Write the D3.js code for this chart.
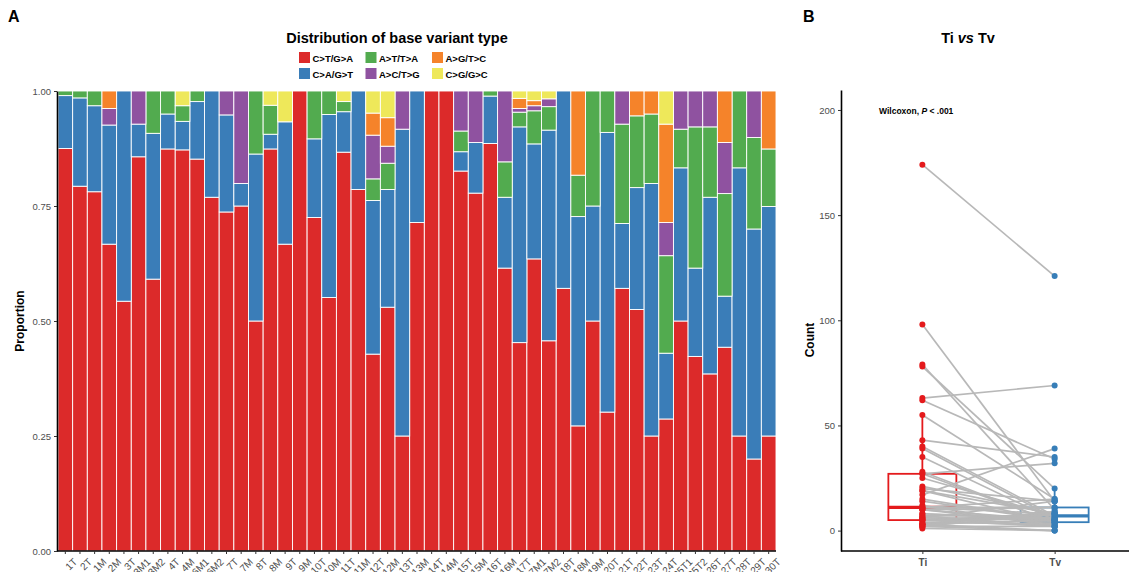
<!DOCTYPE html>
<html>
<head>
<meta charset="utf-8">
<script src="https://cdn.jsdelivr.net/npm/d3@7"></script>
<style>
body { margin: 0; background: #fff; }
svg { font-family: "Liberation Sans", Arial, sans-serif; }
</style>
</head>
<body>
<svg id="fig" width="1129" height="572"></svg>
<script>
// panel A: proportion of each base change per sample
var samples = ["1T","2T","1M","2M","3T","3M1","3M2","4T","4M","6M1","6M2","7T","7M","8T","8M","9T","9M","10T","10M","11T","11M","12T","12M","13T","13M","14T","14M","15T","15M","16T","16M","17T","17M1","17M2","18T","18M","19M","20T","21T","22T","23T","24T","25T1","25T2","26T","27T","28T","29T","30T"];
var ctga = [.875,.793,.781,.667,.543,.857,.591,.874,.872,.852,.769,.737,.75,.5,.874,.667,1,.725,.551,.867,.786,.428,.53,.25,.714,1,1,.826,.778,.886,.615,.453,.635,.457,.571,.272,.5,.302,.571,.525,.25,.287,.5,.423,.385,.443,.25,.2,.25];
var cagt = [.115,.192,.187,.259,.457,.071,.317,.076,.062,.125,.231,.211,.049,.363,.032,.266,0,.171,.398,.088,.214,.334,.256,.667,.286,0,0,.042,.110,.103,.154,.469,.25,.458,.429,.455,.25,.608,.141,.265,.549,.143,.333,.192,.384,.111,.583,.5,.499];
var atta = [.010,.015,.032,0,0,0,.092,.050,.034,.023,0,0,0,.137,.063,0,0,.104,.051,.022,0,.047,.057,0,0,0,0,.045,0,.011,.077,.032,.072,.051,0,.090,.25,.090,.216,.156,.151,.212,.084,.307,.153,.223,.167,.199,.125];
var actg = [0,0,0,.036,0,.072,0,0,0,0,0,.052,.201,0,0,0,0,0,0,0,0,.095,.037,.083,0,0,0,.087,.112,0,.154,.008,.011,.017,0,0,0,0,.072,0,0,.072,.083,.078,.078,.111,0,.101,0];
var agtc = [0,0,0,.038,0,0,0,0,0,0,0,0,0,0,0,0,0,0,0,0,0,.048,.062,0,0,0,0,0,0,0,0,.022,.011,0,0,.183,0,0,0,.054,.05,.214,0,0,0,.112,0,0,.126];
var cggc = [0,0,0,0,0,0,0,0,.032,0,0,0,0,0,.031,.067,0,0,0,.023,0,.048,.058,0,0,0,0,0,0,0,0,.016,.021,.017,0,0,0,0,0,0,0,.072,0,0,0,0,0,0,0];
var typeNames = ["C>T/G>A","C>A/G>T","A>T/T>A","A>C/T>G","A>G/T>C","C>G/G>C"];
var typeColors = ["#dc2a2a","#3a7db8","#52ab4f","#8f52a0","#f5832a","#eee85a"];
var propTicks = [0, 0.25, 0.5, 0.75, 1];

// panel B: transitions / transversions per sample
var groups = ["Ti", "Tv"];
var tiCount = [98,78,25,19,6,12,174,35,27,40,10,14,15,11,28,10,3,21,43,39,55,10,20,3,5,2,1,19,7,79,8,63,62,27,4,5,2,17,8,11,6,7,6,11,5,5,3,2,3];
var tvCount = [14,20,7,8,5,2,121,5,4,7,3,5,5,11,4,5,0,8,35,6,15,11,14,9,2,0,0,4,2,10,5,69,34,32,3,6,2,39,6,8,14,7,6,15,8,4,9,8,5];
var countTicks = [0, 50, 100, 150, 200];
var groupColors = ["#e41a1c", "#377eb8"];

var svg = d3.select("#fig");

function styleAxis(g) {
	g.select(".domain").attr("stroke", "#000").attr("stroke-width", 1.6);
	g.selectAll(".tick line").attr("stroke", "#333").attr("stroke-width", 1);
	g.selectAll(".tick text").attr("fill", "#4d4d4d").style("font-size", "9.5px");
}

// ---------- A ----------
var series = [ctga, cagt, atta, actg, agtc, cggc];
var rows = samples.map(function(s, i) {
	var r = {sample: s};
	typeNames.forEach(function(t, k) { r[t] = series[k][i]; });
	return r;
});

var stack = d3.stack().keys(typeNames).offset(d3.stackOffsetExpand);
var stacked = stack(rows);

var x = d3.scaleBand().domain(samples).range([58, 776]).padding(0);
var y = d3.scaleLinear().domain([0, 1]).range([551, 91]);
var color = d3.scaleOrdinal().domain(typeNames).range(typeColors);

svg.append("g").selectAll("g")
	.data(stacked)
	.enter().append("g")
	.attr("fill", function(d) { return color(d.key); })
	.selectAll("rect")
	.data(function(d) { return d; })
	.enter().append("rect")
	.attr("x", function(d) { return x(d.data.sample); })
	.attr("width", x.bandwidth())
	.attr("y", function(d) { return y(d[1]); })
	.attr("height", function(d) { return y(d[0]) - y(d[1]); })
	.attr("stroke", "#fff")
	.attr("stroke-width", 0.9);

svg.append("g")
	.attr("transform", "translate(57,0)")
	.call(d3.axisLeft(y).tickValues(propTicks).tickFormat(d3.format(".2f")).tickSize(3).tickSizeOuter(0))
	.call(styleAxis);

var xAxisA = svg.append("g")
	.attr("transform", "translate(0,551)")
	.call(d3.axisBottom(x).tickSize(3).tickSizeOuter(0))
	.call(styleAxis);
xAxisA.select(".domain").attr("d", "M57,0H776");
xAxisA.selectAll(".tick text")
	.attr("text-anchor", "end")
	.attr("transform", "translate(3,2) rotate(-45)")
	.attr("dy", "0.75em")
	.style("font-size", "10px");

svg.append("text")
	.attr("transform", "translate(24,321) rotate(-90)")
	.attr("text-anchor", "middle")
	.style("font-size", "12px").style("font-weight", "bold")
	.text("Proportion");

svg.append("text").attr("x", 8).attr("y", 22)
	.style("font-size", "16px").style("font-weight", "bold").text("A");

svg.append("text").attr("x", 397).attr("y", 43)
	.attr("text-anchor", "middle")
	.style("font-size", "14.5px").style("font-weight", "bold")
	.text("Distribution of base variant type");

// legend: 3 columns x 2 rows, filled by column
var legend = svg.append("g").selectAll("g")
	.data(typeNames)
	.enter().append("g")
	.attr("transform", function(d, i) {
		return "translate(" + (299 + Math.floor(i / 2) * 66.5) + "," + (52 + (i % 2) * 16) + ")";
	});
legend.append("rect").attr("width", 11).attr("height", 11)
	.attr("fill", function(d) { return color(d); });
legend.append("text").attr("x", 13.5).attr("y", 9.5)
	.style("font-size", "9.5px").style("font-weight", "bold")
	.text(function(d) { return d; });

// ---------- B ----------
var yB = d3.scaleLinear().domain([-9.7, 209.5]).range([551, 90]);
var xB = d3.scalePoint().domain(groups).range([843, 1134]).padding(0.6);

svg.append("text").attr("x", 803).attr("y", 22)
	.style("font-size", "16px").style("font-weight", "bold").text("B");

var titleB = svg.append("text").attr("x", 968).attr("y", 43)
	.attr("text-anchor", "middle")
	.style("font-size", "14.5px").style("font-weight", "bold");
titleB.append("tspan").text("Ti ");
titleB.append("tspan").style("font-style", "italic").text("vs");
titleB.append("tspan").text(" Tv");

svg.append("g")
	.attr("transform", "translate(841,0)")
	.call(d3.axisLeft(yB).tickValues(countTicks).tickSize(3).tickSizeOuter(0))
	.call(styleAxis);

var xAxisB = svg.append("g")
	.attr("transform", "translate(0,551)")
	.call(d3.axisBottom(xB).tickSize(3).tickSizeOuter(0))
	.call(styleAxis);
xAxisB.select(".domain").attr("d", "M841,0H1129");
xAxisB.selectAll(".tick text").attr("dy", "0.9em").style("font-weight", "bold").style("font-size", "10px");

svg.append("text")
	.attr("transform", "translate(814,340) rotate(-90)")
	.attr("text-anchor", "middle")
	.style("font-size", "12px").style("font-weight", "bold")
	.text("Count");

var wil = svg.append("text").attr("x", 879).attr("y", 114)
	.style("font-size", "8.5px").style("font-weight", "bold");
wil.append("tspan").text("Wilcoxon, ");
wil.append("tspan").style("font-style", "italic").text("P");
wil.append("tspan").text(" < .001");

// boxplots (drawn under the paired lines)
[tiCount, tvCount].forEach(function(vals, k) {
	var s = vals.slice().sort(d3.ascending);
	var q1 = d3.quantile(s, 0.25), med = d3.quantile(s, 0.5), q3 = d3.quantile(s, 0.75);
	var iqr = q3 - q1;
	var hi = d3.max(s.filter(function(v) { return v <= q3 + 1.5 * iqr; }));
	var lo = d3.min(s.filter(function(v) { return v >= q1 - 1.5 * iqr; }));
	var cx = xB(groups[k]), hw = 34;
	var g = svg.append("g").attr("stroke", groupColors[k]).attr("fill", "none");
	g.append("line").attr("x1", cx).attr("x2", cx).attr("y1", yB(q3)).attr("y2", yB(hi)).attr("stroke-width", 1.8);
	g.append("line").attr("x1", cx).attr("x2", cx).attr("y1", yB(q1)).attr("y2", yB(lo)).attr("stroke-width", 1.8);
	g.append("rect").attr("x", cx - hw).attr("width", hw * 2)
		.attr("y", yB(q3)).attr("height", yB(q1) - yB(q3)).attr("stroke-width", 1.8);
	g.append("line").attr("x1", cx - hw).attr("x2", cx + hw)
		.attr("y1", yB(med)).attr("y2", yB(med)).attr("stroke-width", 3.2);
});

svg.append("g").selectAll("line")
	.data(samples)
	.enter().append("line")
	.attr("x1", xB("Ti")).attr("x2", xB("Tv"))
	.attr("y1", function(d, i) { return yB(tiCount[i]); })
	.attr("y2", function(d, i) { return yB(tvCount[i]); })
	.attr("stroke", "#b8b8b8")
	.attr("stroke-width", 1.7);

[tiCount, tvCount].forEach(function(vals, k) {
	svg.append("g").selectAll("circle")
		.data(vals)
		.enter().append("circle")
		.attr("cx", xB(groups[k]))
		.attr("cy", function(d) { return yB(d); })
		.attr("r", 3)
		.attr("fill", groupColors[k]);
});
</script>
</body>
</html>
